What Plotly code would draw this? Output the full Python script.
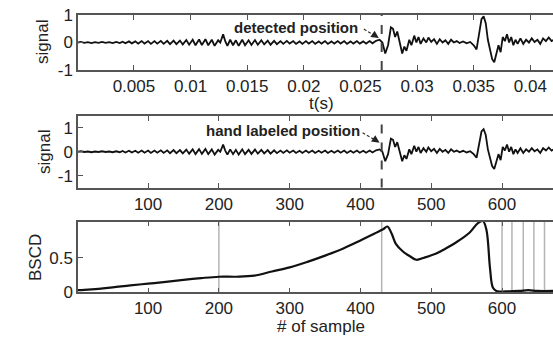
import plotly.graph_objects as go

# Sampling rate of the recording (Hz)
FS = 16000

# Signal waveform: sample index of each vertex and its amplitude
sig_n = [1, 5, 10, 15, 20, 25, 30, 35, 40, 45, 50, 55, 60,
         64, 68, 73, 77, 82, 86, 91, 95, 100, 104, 109, 113, 118, 122, 127, 131, 136, 140, 145, 149,
         154, 158, 163, 167, 172, 176, 181, 185, 190, 194, 199, 202, 206, 209, 212, 216, 220, 224, 228,
         233, 237, 242, 246, 251, 255, 260, 264, 269, 273,
         278, 282, 287, 291, 296, 300, 305, 309, 314, 318, 323, 327, 332, 336, 341, 345, 350, 354,
         359, 363, 368, 372, 377, 381, 386, 390, 395, 399, 404, 408, 413, 417, 422, 427, 431,
         435, 439, 443, 446, 449, 452, 455, 459, 462, 465, 469, 472, 476, 479, 482, 485, 489, 493,
         496, 500, 504, 508, 512, 516, 520, 524, 528, 532, 536, 540, 545, 550, 555, 560, 564,
         567, 571, 574, 577, 580, 583, 586, 589, 592, 595, 598, 601, 604, 607, 610, 613, 616, 619,
         622, 626, 630, 634, 638, 642, 646, 650, 654, 658, 662, 666, 670, 673]
sig_v = [0.0, 0.02, -0.01, 0.01, -0.02, 0.01, -0.01, 0.02, -0.01, 0.01, -0.02, 0.02, -0.02,
         0.03, -0.03, 0.04, -0.03, 0.04, -0.04, 0.05, -0.04, 0.05, -0.05, 0.05, -0.04, 0.06, -0.05, 0.06, -0.06, 0.07, -0.06, 0.07, -0.07,
         0.09, -0.08, 0.10, -0.10, 0.11, -0.09, 0.12, -0.10, 0.10, -0.12, 0.08, 0.0, 0.30, 0.05, -0.12, 0.10, -0.10, 0.08, -0.12,
         0.10, -0.10, 0.08, -0.09, 0.09, -0.08, 0.08, -0.07, 0.07, -0.08,
         0.06, -0.06, 0.05, -0.05, 0.06, -0.04, 0.05, -0.05, 0.04, -0.05, 0.05, -0.04, 0.05, -0.05, 0.04, -0.04, 0.05, -0.05,
         0.04, -0.04, 0.05, -0.04, 0.05, -0.05, 0.04, -0.04, 0.05, -0.04, 0.04, -0.04, 0.05, -0.03, 0.06, 0.10, 0.0,
         -0.40, -0.10, 0.55, 0.50, 0.20, 0.40, 0.05, -0.40, -0.15, -0.30, 0.10, -0.10, 0.25, 0.0, 0.20, -0.05, 0.15, 0.0,
         0.18, 0.02, 0.12, -0.05, 0.12, 0.0, 0.08, -0.05, 0.10, 0.0, 0.05, -0.02, 0.04, -0.03, 0.02, -0.10, -0.25,
         0.30, 0.85, 0.95, 0.70, 0.10, -0.30, -0.60, -0.72, -0.40, -0.10, -0.35, 0.20, 0.05, 0.30, 0.0, 0.20, -0.10, 0.10,
         -0.05, 0.15, -0.05, 0.10, 0.0, 0.15, 0.02, 0.10, -0.05, 0.15, 0.05, 0.18, 0.05, 0.10]

# BSCD curve
bscd_n = [1, 10, 30, 50, 75, 100, 125, 150, 175, 200, 225, 250, 275, 300, 325, 350, 375, 400, 420,
          432, 438, 444, 450, 460, 470, 479, 490, 507, 520, 535, 554, 566, 573, 578, 583, 587, 592,
          597, 610, 625, 637, 650, 673]
bscd_v = [0.03, 0.035, 0.05, 0.07, 0.10, 0.125, 0.15, 0.18, 0.205, 0.225, 0.225, 0.24, 0.30, 0.36,
          0.44, 0.53, 0.63, 0.75, 0.85, 0.91, 0.95, 0.85, 0.70, 0.59, 0.52, 0.47, 0.50, 0.56, 0.63,
          0.72, 0.86, 1.0, 1.03, 0.90, 0.35, 0.07, 0.02, 0.01, 0.015, 0.02, 0.03, 0.02, 0.02]

# Boundary markers drawn on the BSCD panel
bscd_marks = [200, 430, 600, 614, 630, 645, 660]

# Labelled onset position (sample index)
onset = 430

time_ticks = [0.005, 0.01, 0.015, 0.02, 0.025, 0.03, 0.035, 0.04]
time_labels = ["0.005", "0.01", "0.015", "0.02", "0.025", "0.03", "0.035", "0.04"]
sample_ticks = [100, 200, 300, 400, 500, 600]
sample_labels = ["100", "200", "300", "400", "500", "600"]

W, H = 553, 337
FONT = "Liberation Sans, Arial, sans-serif"
AX = "#555555"
n_max = 672

sig_t = [n / FS for n in sig_n]

fig = go.Figure()
fig.add_trace(go.Scatter(x=sig_t, y=sig_v, mode="lines", line=dict(color="#111", width=1.8),
                         xaxis="x", yaxis="y", showlegend=False))
fig.add_trace(go.Scatter(x=sig_n, y=sig_v, mode="lines", line=dict(color="#111", width=1.8),
                         xaxis="x2", yaxis="y2", showlegend=False))
for m in bscd_marks:
    fig.add_trace(go.Scatter(x=[m, m], y=[0, 1.02], mode="lines",
                             line=dict(color="#b4b4b4", width=1.5),
                             xaxis="x3", yaxis="y3", showlegend=False))
fig.add_trace(go.Scatter(x=bscd_n, y=bscd_v, mode="lines", line=dict(color="#111", width=2.2),
                         line_shape="spline", xaxis="x3", yaxis="y3", showlegend=False))

# dashed onset lines
fig.add_shape(type="line", xref="x", yref="y domain", x0=onset / FS, x1=onset / FS, y0=0, y1=1,
              line=dict(color="#444", width=2, dash="dash"))
fig.add_shape(type="line", xref="x2", yref="y2 domain", x0=onset, x1=onset, y0=0, y1=1,
              line=dict(color="#444", width=2, dash="dash"))

# dashed pointer shafts (pixel offsets from the arrow tip)
pointers = [("x", "y", 426 / FS, 0.16, -15, 9), ("x2", "y2", 427, 0.38, -17, 10)]
for xr, yr, px, py, dx, dy in pointers:
    fig.add_shape(type="line", xref=xr, yref=yr, xsizemode="pixel", ysizemode="pixel",
                  xanchor=px, yanchor=py, x0=dx, y0=dy, x1=-5, y1=3,
                  line=dict(color="#333", width=1.2, dash="3px,2px"))


def px_to_dom(top, bottom):
    return [1 - bottom / H, 1 - top / H]


common_x = dict(showline=True, linecolor=AX, linewidth=1.5, mirror="ticks", ticks="inside",
                ticklen=5, tickcolor=AX, tickwidth=1, showgrid=False, zeroline=False,
                automargin=False, tickfont=dict(family=FONT, size=17, color="#222"), domain=[0, 1])
common_y = dict(showline=True, linecolor=AX, linewidth=1.5, mirror=False, ticks="inside",
                ticklen=5, tickcolor=AX, tickwidth=1, showgrid=False, zeroline=False,
                automargin=False, tickfont=dict(family=FONT, size=17, color="#222"))

fig.update_layout(
    width=W, height=H,
    margin=dict(l=78, r=0, t=0, b=0, pad=0, autoexpand=False),
    paper_bgcolor="white", plot_bgcolor="white",
    xaxis=dict(common_x, anchor="y", range=[1 / FS, n_max / FS], tickvals=time_ticks, ticktext=time_labels),
    yaxis=dict(common_y, anchor="x", domain=px_to_dom(15, 70), range=[-1, 1], tickvals=[-1, 0, 1],
               ticktext=["-1", "0", "1"]),
    xaxis2=dict(common_x, anchor="y2", range=[1, n_max], tickvals=sample_ticks, ticktext=sample_labels),
    yaxis2=dict(common_y, anchor="x2", domain=px_to_dom(116, 187.5), range=[-1.5, 1.5],
                tickvals=[-1, 0, 1], ticktext=["-1", "0", "1"]),
    xaxis3=dict(common_x, anchor="y3", range=[1, n_max], tickvals=sample_ticks, ticktext=sample_labels),
    yaxis3=dict(common_y, anchor="x3", domain=px_to_dom(221.7, 292.3), range=[0, 1.02],
                tickvals=[0, 0.5], ticktext=["0", "0.5"]),
)

title_font = dict(family=FONT, size=17, color="#222")
ann = [
    dict(text="t(s)", xref="paper", yref="paper", x=(321 - 78) / (W - 78), y=1 - 103 / H,
         showarrow=False, font=title_font, xanchor="center", yanchor="middle"),
    dict(text="# of sample", xref="paper", yref="paper", x=(321 - 78) / (W - 78), y=1 - 326 / H,
         showarrow=False, font=title_font, xanchor="center", yanchor="middle"),
    dict(text="signal", xref="paper", yref="paper", x=(43 - 78) / (W - 78), y=1 - 42 / H,
         showarrow=False, font=title_font, textangle=-90, xanchor="center", yanchor="middle"),
    dict(text="signal", xref="paper", yref="paper", x=(44 - 78) / (W - 78), y=1 - 152 / H,
         showarrow=False, font=title_font, textangle=-90, xanchor="center", yanchor="middle"),
    dict(text="BSCD", xref="paper", yref="paper", x=(35 - 78) / (W - 78), y=1 - 258 / H,
         showarrow=False, font=title_font, textangle=-90, xanchor="center", yanchor="middle"),
    # labels with pointers to the onset
    dict(text="<b>detected position</b>", xref="x", yref="y", x=399 / FS, y=0.55,
         showarrow=False, font=dict(family=FONT, size=15, color="#222"), xanchor="right", yanchor="middle"),
    dict(text="", xref="x", yref="y", x=426 / FS, y=0.16, ax=-6, ay=-4, showarrow=True,
         arrowhead=2, arrowsize=1.1, arrowwidth=1.4, arrowcolor="#222"),
    dict(text="<b>hand labeled position</b>", xref="x2", yref="y2", x=402, y=0.88,
         showarrow=False, font=dict(family=FONT, size=15, color="#222"), xanchor="right", yanchor="middle"),
    dict(text="", xref="x2", yref="y2", x=427, y=0.38, ax=-6, ay=-4, showarrow=True,
         arrowhead=2, arrowsize=1.1, arrowwidth=1.4, arrowcolor="#222"),
]
fig.update_layout(annotations=ann)

fig.write_html("out.html")
